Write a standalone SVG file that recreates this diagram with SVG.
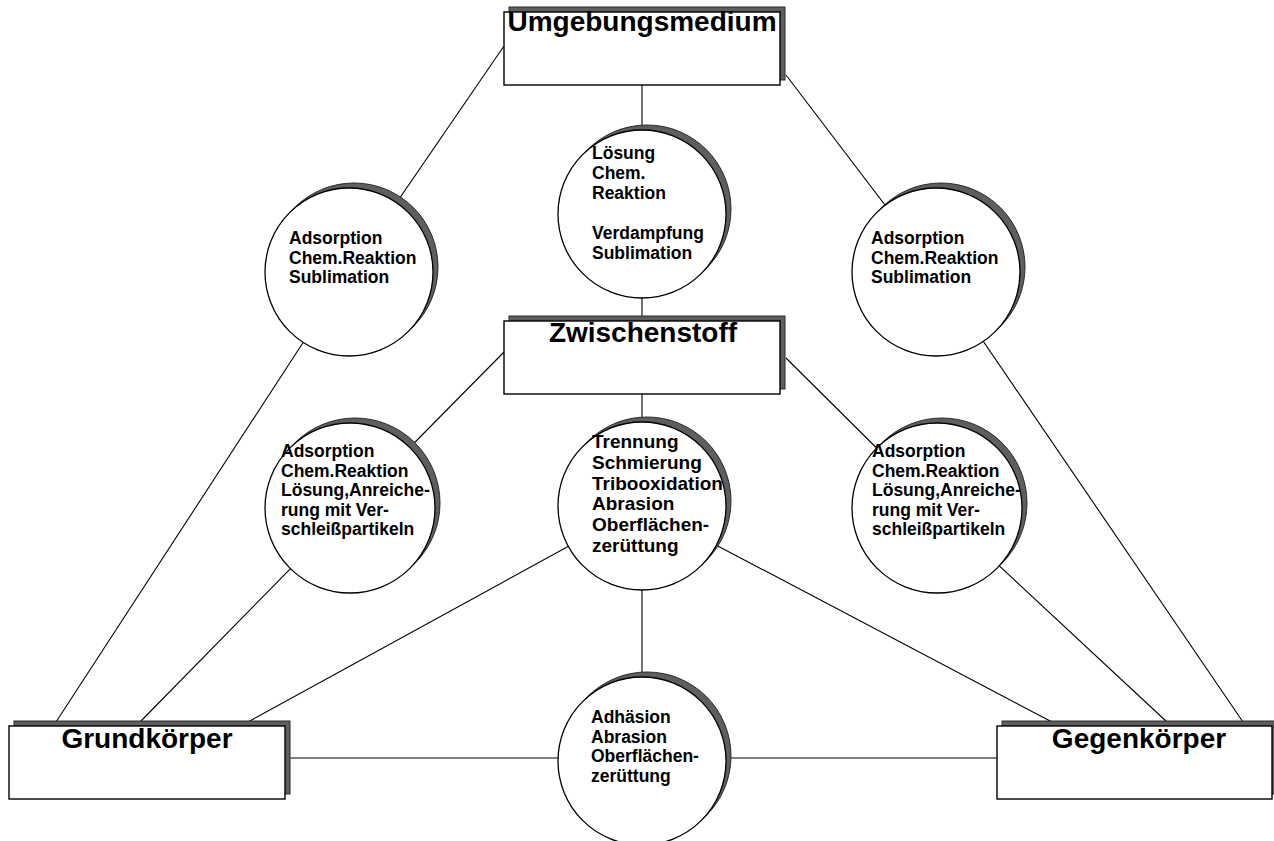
<svg xmlns="http://www.w3.org/2000/svg" width="1274" height="841" viewBox="0 0 1274 841">
<defs>
<style>
.bg{fill:#ffffff}
.ln{stroke:#000;stroke-width:1.1;fill:none}
.box{fill:#fff;stroke:#000;stroke-width:1.4}
.bsh{fill:#5e5e5e;stroke:#2a2a2a;stroke-width:1}
.cir{fill:#fff;stroke:#000;stroke-width:1.3}
.csh{fill:#5e5e5e;stroke:#2a2a2a;stroke-width:1}
.bt{font-family:"Liberation Sans",Arial,sans-serif;font-weight:bold;font-size:28px;fill:#000;text-anchor:middle}
.ct{font-family:"Liberation Sans",Arial,sans-serif;font-weight:bold;font-size:17.5px;fill:#000}
.ctl{font-family:"Liberation Sans",Arial,sans-serif;font-weight:bold;font-size:19px;fill:#000}
</style>
</defs>
<rect class="bg" x="0" y="0" width="1274" height="841"/>
<g id="connectors">
<line class="ln" x1="504" y1="46" x2="349" y2="272"/>
<line class="ln" x1="786" y1="75" x2="936" y2="272"/>
<line class="ln" x1="642" y1="85" x2="642" y2="214"/>
<line class="ln" x1="642" y1="214" x2="642" y2="321"/>
<line class="ln" x1="504" y1="352" x2="350" y2="508"/>
<line class="ln" x1="786" y1="358" x2="937" y2="508"/>
<line class="ln" x1="642" y1="394" x2="642" y2="506"/>
<line class="ln" x1="56" y1="722" x2="349" y2="272"/>
<line class="ln" x1="140" y1="722" x2="350" y2="508"/>
<line class="ln" x1="248" y1="722" x2="642" y2="506"/>
<line class="ln" x1="290" y1="758" x2="642" y2="758"/>
<line class="ln" x1="642" y1="506" x2="642" y2="761"/>
<line class="ln" x1="1052" y1="722" x2="642" y2="506"/>
<line class="ln" x1="1167" y1="722" x2="937" y2="508"/>
<line class="ln" x1="1243" y1="722" x2="936" y2="272"/>
<line class="ln" x1="642" y1="758" x2="998" y2="758"/>
</g>
<g id="umgebungsmedium">
<rect class="bsh" x="509" y="7" width="276" height="73"/>
<rect class="box" x="504" y="12" width="276" height="73"/>
<text class="bt" x="642" y="31">Umgebungsmedium</text>
</g>
<g id="zwischenstoff">
<rect class="bsh" x="509" y="316" width="276" height="73"/>
<rect class="box" x="504" y="321" width="276" height="73"/>
<text class="bt" x="643" y="342">Zwischenstoff</text>
</g>
<g id="grundkoerper">
<rect class="bsh" x="14" y="721" width="276" height="73"/>
<rect class="box" x="9" y="726" width="276" height="73"/>
<text class="bt" x="147" y="748">Grundkörper</text>
</g>
<g id="gegenkoerper">
<rect class="bsh" x="1002" y="721" width="276" height="73"/>
<rect class="box" x="997" y="726" width="275" height="73"/>
<text class="bt" x="1139" y="748">Gegenkörper</text>
</g>
<g id="c-top-left">
<circle class="csh" cx="354" cy="267" r="84"/>
<circle class="cir" cx="349" cy="272" r="84"/>
<text class="ct" x="289" y="244">Adsorption</text>
<text class="ct" x="289" y="263.5">Chem.Reaktion</text>
<text class="ct" x="289" y="283">Sublimation</text>
</g>
<g id="c-top-center">
<circle class="csh" cx="647" cy="209" r="84"/>
<circle class="cir" cx="642" cy="214" r="84"/>
<text class="ct" x="592" y="159">Lösung</text>
<text class="ct" x="592" y="179">Chem.</text>
<text class="ct" x="592" y="199">Reaktion</text>
<text class="ct" x="592" y="239">Verdampfung</text>
<text class="ct" x="592" y="259">Sublimation</text>
</g>
<g id="c-top-right">
<circle class="csh" cx="941" cy="267" r="84"/>
<circle class="cir" cx="936" cy="272" r="84"/>
<text class="ct" x="871" y="244">Adsorption</text>
<text class="ct" x="871" y="263.5">Chem.Reaktion</text>
<text class="ct" x="871" y="283">Sublimation</text>
</g>
<g id="c-mid-left">
<circle class="csh" cx="355" cy="503" r="85"/>
<circle class="cir" cx="350" cy="508" r="85"/>
<text class="ct" x="281" y="457">Adsorption</text>
<text class="ct" x="281" y="476.5">Chem.Reaktion</text>
<text class="ct" x="281" y="496">Lösung,Anreiche-</text>
<text class="ct" x="281" y="515.5">rung mit Ver-</text>
<text class="ct" x="281" y="535">schleißpartikeln</text>
</g>
<g id="c-mid-center">
<circle class="csh" cx="647" cy="501" r="84"/>
<circle class="cir" cx="642" cy="506" r="84"/>
<text class="ctl" x="592" y="448">Trennung</text>
<text class="ctl" x="592" y="469">Schmierung</text>
<text class="ctl" x="592" y="489.5">Tribooxidation</text>
<text class="ctl" x="592" y="510">Abrasion</text>
<text class="ctl" x="592" y="531">Oberflächen-</text>
<text class="ctl" x="592" y="551.5">zerüttung</text>
</g>
<g id="c-mid-right">
<circle class="csh" cx="942" cy="503" r="85"/>
<circle class="cir" cx="937" cy="508" r="85"/>
<text class="ct" x="872" y="457">Adsorption</text>
<text class="ct" x="872" y="476.5">Chem.Reaktion</text>
<text class="ct" x="872" y="496">Lösung,Anreiche-</text>
<text class="ct" x="872" y="515.5">rung mit Ver-</text>
<text class="ct" x="872" y="535">schleißpartikeln</text>
</g>
<g id="c-bottom">
<circle class="csh" cx="647" cy="756" r="84"/>
<circle class="cir" cx="642" cy="761" r="84"/>
<text class="ct" x="591" y="723">Adhäsion</text>
<text class="ct" x="591" y="742.5">Abrasion</text>
<text class="ct" x="591" y="762">Oberflächen-</text>
<text class="ct" x="591" y="781.5">zerüttung</text>
</g>
</svg>
